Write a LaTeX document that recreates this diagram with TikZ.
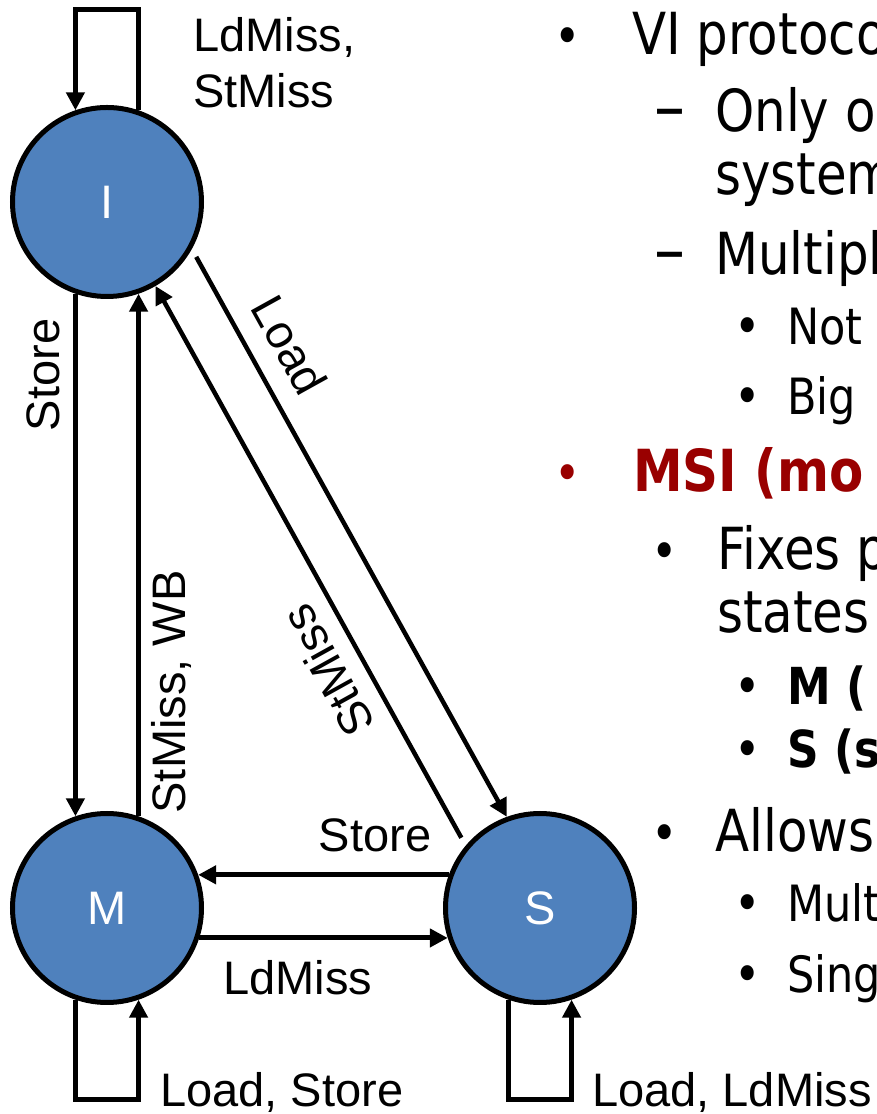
\documentclass[tikz,border=0pt]{standalone}
\usepackage{fontspec}
\setmainfont{Liberation Sans}
\newfontfamily\slidefont[FakeStretch=0.86]{DejaVu Sans}
\usetikzlibrary{arrows.meta}
\definecolor{stateblue}{HTML}{4F81BD}
\definecolor{msired}{HTML}{990000}
\begin{document}
\begin{tikzpicture}[>={Triangle[length=18bp,width=18bp]},line join=miter,
  state/.style={circle,draw=black,line width=5bp,fill=stateblue,minimum size=189bp,
    inner sep=0pt,text=white,font=\fontsize{47bp}{50bp}\selectfont},
  edge/.style={black,line width=5bp,->},
  lbl/.style={inner sep=0pt,font=\fontsize{47bp}{50bp}\selectfont},
  big/.style={inner sep=0pt,anchor=base west,font=\slidefont\fontsize{58bp}{64bp}\selectfont},
  bigbold/.style={big,font=\slidefont\bfseries\fontsize{58bp}{64bp}\selectfont},
  small/.style={inner sep=0pt,anchor=base west,font=\slidefont\fontsize{50bp}{56bp}\selectfont},
  smallbold/.style={small,font=\slidefont\bfseries\fontsize{51bp}{56bp}\selectfont},
  dot/.style={inner sep=0pt,anchor=base,font=\slidefont\fontsize{52bp}{56bp}\selectfont},
  dashmark/.style={inner sep=0pt,anchor=base,font=\slidefont\fontsize{72bp}{72bp}\selectfont}]
\useasboundingbox (0,0) rectangle (877bp,1114bp);
\clip (0,0) rectangle (877bp,1114bp);
%%
\node (I) at (107bp,912bp) [state] {I};
  \node (M) at (107bp,206bp) [state] {M};
  \node (S) at (540bp,206bp) [state] {S};
  \coordinate (Itop) at (107bp,1104bp);
  \coordinate (Mbot) at (107bp,14bp);
  \coordinate (Sbot) at (540bp,14bp);
%% transitions
  \draw [edge] (I.71) |- (Itop) -| (I.109);
  \draw [edge] (I.251) -- (M.109);
  \draw [edge] (M.71) -- (I.289);
  \draw [edge,line width=4.5bp,shorten <=9bp] (I.-29) -- (S.110);
  \draw [edge,line width=4.5bp,shorten <=9bp] (S.140) -- (I.-60);
  \draw [edge] (S.160) -- (M.20);
  \draw [edge] (M.-18) -- (S.198);
  \draw [edge] (M.251) |- (Mbot) -| (M.289);
  \draw [edge] (S.251) |- (Sbot) -| (S.289);
%% transition labels
  \node (lIa) at (193bp,1062bp) [lbl,anchor=base west] {LdMiss,};
  \node (lIb) at (193bp,1006bp) [lbl,anchor=base west] {StMiss};
  \node (lIM) at (43bp,739bp) [lbl,rotate=90] {Store};
  \node (lMI) at (171bp,422bp) [lbl,rotate=90] {StMiss, WB};
  \node (lIS) at (290bp,769bp) [lbl,rotate=-61] {Load};
  \node (lSI) at (328bp,443bp) [lbl,rotate=119] {StMiss};
  \node (lSM) at (375bp,262bp) [lbl,anchor=base] {Store};
  \node (lMS) at (298bp,119bp) [lbl,anchor=base] {LdMiss};
  \node (lMM) at (160bp,8bp) [lbl,anchor=base west] {Load, Store};
  \node (lSS) at (592bp,8bp) [lbl,anchor=base west] {Load, LdMiss};
%% bullet text
  \node (b1) at (568bp,1059bp) [dot] {•};
  \node (t1) at (632bp,1059bp) [big] {VI protoco};
  \node (b2) at (670bp,982bp) [dashmark] {–};
  \node (t2) at (715bp,982bp) [big] {Only o};
  \node (t3) at (715bp,919bp) [big] {system};
  \node (b4) at (670bp,839bp) [dashmark] {–};
  \node (t4) at (715bp,839bp) [big] {Multipl};
  \node (b5) at (748bp,769bp) [dot] {•};
  \node (t5) at (787bp,769bp) [small] {Not};
  \node (b6) at (748bp,699bp) [dot] {•};
  \node (t6) at (787bp,699bp) [small] {Big};
  \node (b7) at (568bp,622bp) [dot,text=msired] {•};
  \node (t7) at (633bp,622bp) [bigbold,text=msired] {MSI (mo};
  \node (b8) at (665bp,544bp) [dot] {•};
  \node (t8) at (717bp,544bp) [big] {Fixes p};
  \node (t9) at (717bp,481bp) [big] {states};
  \node (b10) at (748bp,409bp) [dot] {•};
  \node (t10) at (787bp,409bp) [smallbold] {M (};
  \node (b11) at (748bp,346bp) [dot] {•};
  \node (t11) at (787bp,346bp) [smallbold] {S (s};
  \node (b12) at (665bp,262bp) [dot] {•};
  \node (t12) at (715bp,262bp) [big] {Allows};
  \node (b13) at (748bp,192bp) [dot] {•};
  \node (t13) at (787bp,192bp) [small] {Mult};
  \node (b14) at (748bp,121bp) [dot] {•};
  \node (t14) at (787bp,121bp) [small] {Sing};
%
\end{tikzpicture}
\end{document}
